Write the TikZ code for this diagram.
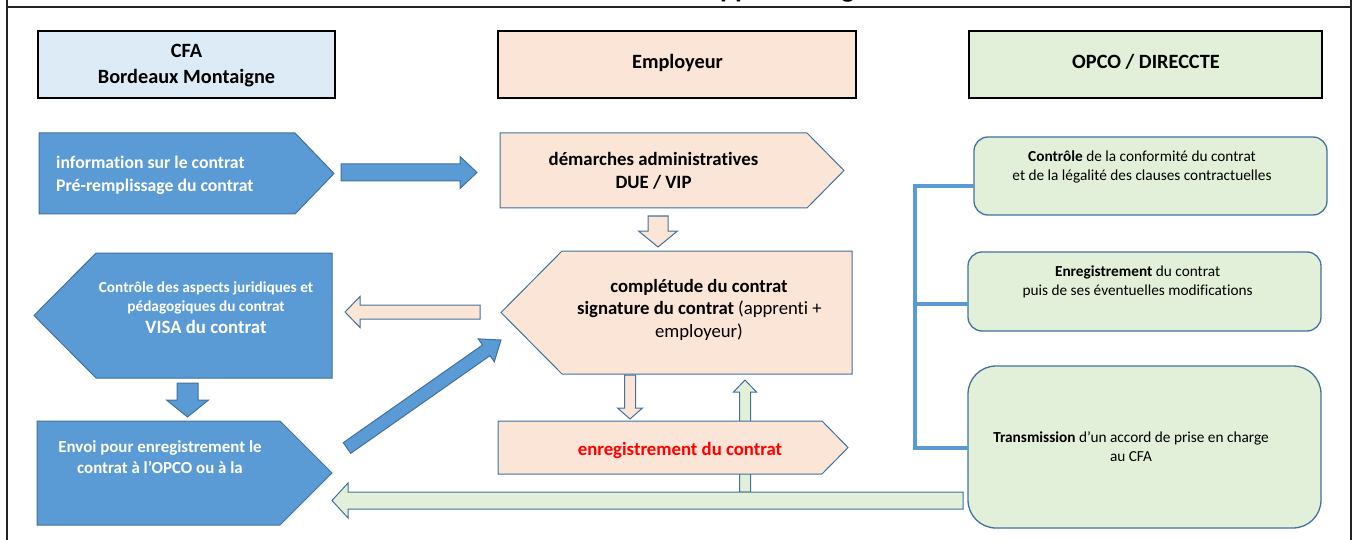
\documentclass[tikz,border=0pt]{standalone}
\usepackage{fontspec}
\setmainfont[Ligatures=NoCommon]{Carlito}
\usetikzlibrary{calc}
\definecolor{cblue}{HTML}{5B9BD5}
\definecolor{cbord}{HTML}{41719C}
\definecolor{cpeach}{HTML}{FBE5D6}
\definecolor{cgreen}{HTML}{E2F0D9}
\definecolor{clblue}{HTML}{DDEBF7}
\definecolor{cred}{HTML}{FF0000}
\definecolor{cframe}{HTML}{222222}
% block arrow: #1 style, #2 from, #3 to, #4 half shaft, #5 half head, #6 head length
\newcommand\blockarr[6]{%
  \coordinate (bah) at ($(#3)!#6!(#2)$);
  \draw[#1] ($(#2)!#4!90:(#3)$) -- ($(bah)!#4!90:(#3)$) -- ($(bah)!#5!90:(#3)$) -- (#3)
    -- ($(bah)!#5!-90:(#3)$) -- ($(bah)!#4!-90:(#3)$) -- ($(#2)!#4!-90:(#3)$) -- cycle;}
\begin{document}
\begin{tikzpicture}[x=1pt,y=-1pt,
  frame/.style={draw=cframe, line width=1.6pt},
  hdr/.style={draw=black, line width=1.4pt},
  bshape/.style={fill=cblue, draw=cbord, line width=1pt, line join=miter},
  pshape/.style={fill=cpeach, draw=cbord, line width=1pt, line join=miter},
  gshape/.style={fill=cgreen, draw=cbord, line width=1pt, line join=miter},
  rbox/.style={fill=cgreen, draw=cbord, line width=1.3pt},
  bracket/.style={draw=cblue, line width=4pt},
  lbl/.style={inner sep=0pt, anchor=base},
  lblw/.style={inner sep=0pt, anchor=base west},
  fh/.style={font=\fontsize{20.3}{24}\selectfont\bfseries},
  fb/.style={font=\fontsize{#1}{#1}\selectfont\bfseries},
  fr/.style={font=\fontsize{15.3}{18}\selectfont},
  wt/.style={text=white}]
\useasboundingbox (0,0) rectangle (1354,540);
\clip (0,0) rectangle (1354,540);

% title (only its descenders are visible)
\node[lblw, font=\fontsize{28}{30}\selectfont\bfseries] (title) at (706,-2.5) {apprentissage};

% frame
\draw[frame] (7,0) -- (7,540);
\draw[frame] (1351,0) -- (1351,540);
\draw[frame] (7,7) -- (1351,7);

% headers
\draw[hdr, fill=clblue] (38,31) rectangle (335,98);
\draw[hdr, fill=cpeach] (498,31) rectangle (856,98);
\draw[hdr, fill=cgreen] (969,31) rectangle (1322,98);
\node[lbl, fh] (hcfa1) at (186.5,58) {CFA};
\node[lbl, fh] (hcfa2) at (186.5,84) {Bordeaux Montaigne};
\node[lbl, fh] (hemp) at (677.5,69) {Employeur};
\node[lbl, fh] (hopco) at (1146,69) {OPCO / DIRECCTE};

% named coordinates for block arrows
\coordinate (a1s) at (341,172.5);  \coordinate (a1e) at (477,172.5);
\coordinate (a2s) at (658,216);    \coordinate (a2e) at (658,247);
\coordinate (a3s) at (480,312);    \coordinate (a3e) at (345,312);
\coordinate (a4s) at (187.5,383);  \coordinate (a4e) at (187.5,417);
\coordinate (a5s) at (347,448);    \coordinate (a5e) at (501,340);
\coordinate (a6s) at (630,375);    \coordinate (a6e) at (630,419);
\coordinate (a7s) at (745,492);    \coordinate (a7e) at (745,380);
\coordinate (a8s) at (963,500.5);  \coordinate (a8e) at (332,500.5);

% CFA column shapes
\draw[bshape] (39,133) -- (295,133) -- (334,173.5) -- (295,214) -- (39,214) -- cycle;
\node[lblw, fb=17.7, wt] (info1) at (56,168.3) {information sur le contrat};
\node[lblw, fb=17.7, wt] (info2) at (56,191.3) {Pré-remplissage du contrat};

\draw[bshape] (34,315.5) -- (96,253) -- (332,253) -- (332,378) -- (96,378) -- cycle;
\node[lbl, fb=15.3, wt] (ctl1) at (206,292.6) {Contrôle des aspects juridiques et};
\node[lbl, fb=15.3, wt] (ctl2) at (206,311.6) {pédagogiques du contrat};
\node[lbl, fb=18.8, wt] (ctl3) at (206,333.6) {VISA du contrat};

\draw[bshape] (37,421) -- (280,421) -- (332,473) -- (280,525) -- (37,525) -- cycle;
\node[lbl, fb=16.9, wt] (env1) at (160,452) {Envoi pour enregistrement le};
\node[lbl, fb=16.9, wt] (env2) at (160,473) {contrat à l'OPCO ou à la};

% Employeur column shapes
\draw[pshape] (500,133) -- (807,133) -- (844,170.5) -- (807,208) -- (500,208) -- cycle;
\node[lbl, fb=18.8] (dem1) at (653.5,165.6) {démarches administratives};
\node[lbl, fb=18.8] (dem2) at (653.5,188.6) {DUE / VIP};

\draw[pshape] (501,312.5) -- (562,251) -- (852,251) -- (852,374) -- (562,374) -- cycle;
\node[lbl, fb=18.7] (cpl1) at (699,292.6) {complétude du contrat};
\node[lbl, fb=18.7] (cpl2) at (699.5,314.6) {signature du contrat \mdseries(apprenti +};
\node[lbl, font=\fontsize{18.7}{18.7}\selectfont] (cpl3) at (699,337.6) {employeur)};

% OPCO column boxes
\draw[rbox, rounded corners=14pt] (974,137) rectangle (1327,215);
\draw[rbox, rounded corners=14pt] (968,252) rectangle (1321,331);
\draw[rbox, rounded corners=28pt] (968,366) rectangle (1321,528);
\coordinate (b1w) at (974,186); \coordinate (b2w) at (968,304); \coordinate (b3w) at (968,448);
\coordinate (brtop) at (915,184); \coordinate (brbot) at (915,448);
\draw[bracket] (b1w) -- (brtop |- b1w) -- (brbot) -- (b3w);
\draw[bracket] (brtop |- b2w) -- (b2w);

\node[lbl, fr] (o11) at (1142,161.6) {\textbf{Contrôle} de la conformité du contrat};
\node[lbl, fr] (o12) at (1142,180.6) {et de la légalité des clauses contractuelles};
\node[lbl, fr] (o21) at (1137.6,276.6) {\textbf{Enregistrement} du contrat};
\node[lbl, fr] (o22) at (1137.6,295.6) {puis de ses éventuelles modifications};
\node[lbl, fr] (o31) at (1131,442.6) {\textbf{Transmission} d'un accord de prise en charge};
\node[lbl, fr] (o32) at (1131,461.6) {au CFA};

% block arrows
\blockarr{bshape}{a1s}{a1e}{8.5pt}{16pt}{17pt}
\blockarr{pshape}{a2s}{a2e}{10pt}{19.5pt}{16pt}
\blockarr{pshape}{a3s}{a3e}{7pt}{15.5pt}{15pt}
\blockarr{bshape}{a4s}{a4e}{10.5pt}{21pt}{17pt}
\blockarr{bshape}{a5s}{a5e}{6.5pt}{14pt}{18pt}
\blockarr{pshape}{a6s}{a6e}{5.5pt}{12.5pt}{11pt}
\blockarr{gshape}{a7s}{a7e}{5.5pt}{11.5pt}{12pt}
\blockarr{gshape}{a8s}{a8e}{8.5pt}{17.5pt}{16pt}

% enregistrement (drawn over the green arrows)
\draw[pshape] (498,421) -- (822,421) -- (848,447.5) -- (822,474) -- (498,474) -- cycle;
\node[lbl, fb=18.75, text=cred] (enr) at (680,455.6) {enregistrement du contrat};
\end{tikzpicture}
\end{document}
